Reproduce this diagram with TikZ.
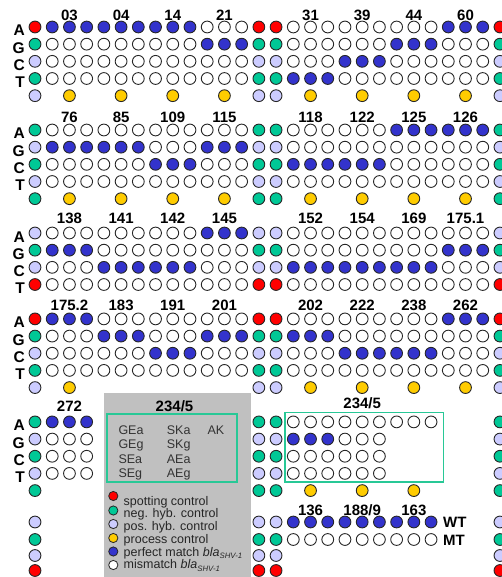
\documentclass[tikz,border=0pt]{standalone}
\usepackage{fontspec}
\setmainfont{Liberation Sans}
\definecolor{cR}{RGB}{255,0,0}
\definecolor{cG}{RGB}{0,200,150}
\definecolor{cL}{RGB}{204,204,255}
\definecolor{cO}{RGB}{255,204,0}
\definecolor{cB}{RGB}{51,51,204}
\definecolor{cW}{RGB}{255,255,255}
\definecolor{boxgray}{RGB}{192,192,192}
\definecolor{rectgreen}{RGB}{40,200,150}
\tikzset{
  dot/.style={circle, inner sep=0pt, minimum size=11.8pt, draw=black!85, line width=0.9pt},
  lgdot/.style={circle, inner sep=0pt, minimum size=9.2pt, draw=black!85, line width=0.8pt},
  numlbl/.style={font=\fontsize{15}{15}\selectfont\bfseries, inner sep=0pt, anchor=base},
  baselbl/.style={font=\fontsize{15.5}{15.5}\selectfont\bfseries, inner sep=0pt, anchor=base east},
  lgtext/.style={font=\fontsize{12.5}{12.5}\selectfont, inner sep=0pt, anchor=base west, text=black!85},
  boxtext/.style={font=\fontsize{12.5}{12.5}\selectfont, inner sep=0pt, anchor=base west, text=black!80},
  greenrect/.style={draw=rectgreen, line width=1.6pt},
}
\newcommand\dotrow[3]{%
  \foreach \s [count=\c from 0] in {#3} {%
    \if\s x\relax\else
      \node[dot, fill=c\s] (#2-\c) at ({35+17.22*\c}, #1) {};
    \fi
  }%
}
\newcommand\bases[2]{%
  \node[baselbl] (#2A) at (25,{#1+9}) {A};
  \node[baselbl] (#2G) at (25,{#1+17.17+9}) {G};
  \node[baselbl] (#2C) at (25,{#1+2*17.17+9}) {C};
  \node[baselbl] (#2T) at (25,{#1+3*17.17+9}) {T};
}
\begin{document}
\begin{tikzpicture}[x=1pt, y=-1pt]
\useasboundingbox (0,0) rectangle (501,577);
% gray legend box
\fill[boxgray] (104,393) rectangle (251,577);
\draw[greenrect] (107,414) rectangle (237,482);
\draw[greenrect] (285,412.3) rectangle (443.3,481.7);

% block 1
\dotrow{27}{b1a}{R,B,B,B,B,B,B,B,B,B,W,W,W,R,R,W,W,W,W,W,W,W,W,W,B,B,B,R}
\dotrow{44.17}{b1g}{G,W,W,W,W,W,W,W,W,W,B,B,B,G,G,W,W,W,W,W,W,B,B,B,W,W,W,G}
\dotrow{61.34}{b1c}{L,W,W,W,W,W,W,W,W,W,W,W,W,L,L,W,W,W,B,B,B,W,W,W,W,W,W,L}
\dotrow{78.51}{b1t}{G,W,W,W,W,W,W,W,W,W,W,W,W,G,G,B,B,B,W,W,W,W,W,W,W,W,W,G}
\dotrow{95.68}{b1p}{L,x,O,x,x,O,x,x,O,x,x,O,x,L,L,x,O,x,x,O,x,x,O,x,x,O,x,L}
\bases{27}{l1}
\foreach \t/\c [count=\i] in {03/2,04/5,14/8,21/11,31/16,39/19,44/22,60/25}
  \node[numlbl] (n1-\i) at ({35+17.22*\c},20.1) {\t};

% block 2
\dotrow{130}{b2a}{G,W,W,W,W,W,W,W,W,W,W,W,W,G,G,W,W,W,W,W,W,B,B,B,B,B,B,G}
\dotrow{147.17}{b2g}{L,B,B,B,B,B,B,W,W,W,B,B,B,L,L,W,W,W,W,W,W,W,W,W,W,W,W,L}
\dotrow{164.34}{b2c}{G,W,W,W,W,W,W,B,B,B,W,W,W,G,G,B,B,B,B,B,B,W,W,W,W,W,W,G}
\dotrow{181.51}{b2t}{L,W,W,W,W,W,W,W,W,W,W,W,W,L,L,W,W,W,W,W,W,W,W,W,W,W,W,L}
\dotrow{198.68}{b2p}{G,x,O,x,x,O,x,x,O,x,x,O,x,G,G,x,O,x,x,O,x,x,O,x,x,O,x,G}
\bases{130}{l2}
\foreach \t/\c [count=\i] in {76/2,85/5,109/8,115/11,118/16,122/19,125/22,126/25}
  \node[numlbl] (n2-\i) at ({35+17.22*\c},122.1) {\t};

% block 3
\dotrow{233}{b3a}{L,W,W,W,W,W,W,W,W,W,B,B,B,L,L,W,W,W,W,W,W,W,W,W,W,W,W,L}
\dotrow{250.17}{b3g}{G,B,B,B,W,W,W,W,W,W,W,W,W,G,G,W,W,W,W,W,W,W,W,W,B,B,B,G}
\dotrow{267.34}{b3c}{L,W,W,W,B,B,B,B,B,B,W,W,W,L,L,B,B,B,B,B,B,B,B,B,W,W,W,L}
\dotrow{284.51}{b3t}{R,W,W,W,W,W,W,W,W,W,W,W,W,R,R,W,W,W,W,W,W,W,W,W,W,W,W,R}
\bases{233}{l3}
\foreach \t/\c [count=\i] in {138/2,141/5,142/8,145/11,152/16,154/19,169/22,175.1/25}
  \node[numlbl] (n3-\i) at ({35+17.22*\c},223.7) {\t};

% block 4
\dotrow{318.9}{b4a}{R,B,B,B,W,W,W,W,W,W,W,W,W,R,R,W,W,W,W,W,W,W,W,W,B,B,B,R}
\dotrow{336.07}{b4g}{G,W,W,W,B,B,B,W,W,W,B,B,B,G,G,B,B,B,W,W,W,W,W,W,W,W,W,G}
\dotrow{353.24}{b4c}{L,W,W,W,W,W,W,B,B,B,W,W,W,L,L,W,W,W,B,B,B,B,B,B,W,W,W,L}
\dotrow{370.41}{b4t}{G,W,W,W,W,W,W,W,W,W,W,W,W,G,G,W,W,W,W,W,W,W,W,W,W,W,W,G}
\dotrow{387.58}{b4p}{L,x,O,x,x,x,x,x,x,x,x,x,x,L,L,x,O,x,x,O,x,x,O,x,x,O,x,L}
\bases{318.9}{l4}
\foreach \t/\c [count=\i] in {175.2/2,183/5,191/8,201/11,202/16,222/19,238/22,262/25}
  \node[numlbl] (n4-\i) at ({35+17.22*\c},310.1) {\t};

% block 5
\dotrow{421.9}{b5a}{G,B,B,B,x,x,x,x,x,x,x,x,x,G,G,W,W,W,W,W,W,W,W,W,x,x,x,G}
\dotrow{439.07}{b5g}{L,W,W,W,x,x,x,x,x,x,x,x,x,L,L,B,B,B,W,W,W,x,x,x,x,x,x,L}
\dotrow{456.24}{b5c}{G,W,W,W,x,x,x,x,x,x,x,x,x,G,G,W,W,W,W,W,W,x,x,x,x,x,x,G}
\dotrow{473.41}{b5t}{L,W,W,W,x,x,x,x,x,x,x,x,x,L,L,W,W,W,W,W,W,x,x,x,x,x,x,L}
\dotrow{490.58}{b5p}{G,x,x,x,x,x,x,x,x,x,x,x,x,G,G,x,O,x,x,O,x,x,O,x,x,x,x,G}
\dotrow{522}{b6w}{L,x,x,x,x,x,x,x,x,x,x,x,x,L,L,B,B,B,B,B,B,B,B,B,x,x,x,L}
\dotrow{539.5}{b6m}{G,x,x,x,x,x,x,x,x,x,x,x,x,G,G,W,W,W,W,W,W,W,W,W,x,x,x,G}
\dotrow{555.5}{b6l}{L,x,x,x,x,x,x,x,x,x,x,x,x,L,L,x,x,x,x,x,x,x,x,x,x,x,x,L}
\dotrow{570.5}{b6r}{R,x,x,x,x,x,x,x,x,x,x,x,x,R,R,x,x,x,x,x,x,x,x,x,x,x,x,R}
\bases{421.9}{l5}
\node[numlbl] (n5-1) at ({35+17.22*2},411.2) {272};
\node[numlbl] (n5-2) at (174.5,411.4) {234/5};
\node[numlbl] (n5-3) at ({35+17.22*19},408.7) {234/5};
\node[numlbl] (n6-1) at ({35+17.22*16},515.4) {136};
\node[numlbl] (n6-2) at ({35+17.22*19},515.4) {188/9};
\node[numlbl] (n6-3) at ({35+17.22*22},515.4) {163};
\node[numlbl, anchor=base west] (wt) at (443,527.8) {WT};
\node[numlbl, anchor=base west] (mt) at (443,545.8) {MT};

% text in gray box
\node[boxtext] (t1) at (118.3,434.5) {GEa};
\node[boxtext] (t2) at (118.3,448.8) {GEg};
\node[boxtext] (t3) at (118.3,463.2) {SEa};
\node[boxtext] (t4) at (118.3,477.5) {SEg};
\node[boxtext] (t5) at (166.7,434.5) {SKa};
\node[boxtext] (t6) at (166.7,448.8) {SKg};
\node[boxtext] (t7) at (166.7,463.2) {AEa};
\node[boxtext] (t8) at (166.7,477.5) {AEg};
\node[boxtext] (t9) at (207.3,434.5) {AK};

% legend
\node[lgdot, fill=cR] (lg1) at (113.3,496) {};
\node[lgdot, fill=cG] (lg2) at (113.3,510.5) {};
\node[lgdot, fill=cL] (lg3) at (113.3,524) {};
\node[lgdot, fill=cO] (lg4) at (113.3,538) {};
\node[lgdot, fill=cB] (lg5) at (113.3,551.5) {};
\node[lgdot, fill=cW] (lg6) at (113.3,565) {};
\node[lgtext] (lt1) at (123.5,505) {spotting control};
\node[lgtext] (lt2) at (123.5,517.5) {neg. hyb. control};
\node[lgtext] (lt3) at (123.5,530.5) {pos. hyb. control};
\node[lgtext] (lt4) at (123.5,543.5) {process control};
\node[lgtext] (lt5) at (123.5,556) {perfect match \textit{bla}\raisebox{-2.5pt}{\fontsize{7.8}{8}\selectfont\itshape SHV-1}};
\node[lgtext] (lt6) at (123.5,568.5) {mismatch \textit{bla}\raisebox{-2.5pt}{\fontsize{7.8}{8}\selectfont\itshape SHV-1}};
\end{tikzpicture}
\end{document}
